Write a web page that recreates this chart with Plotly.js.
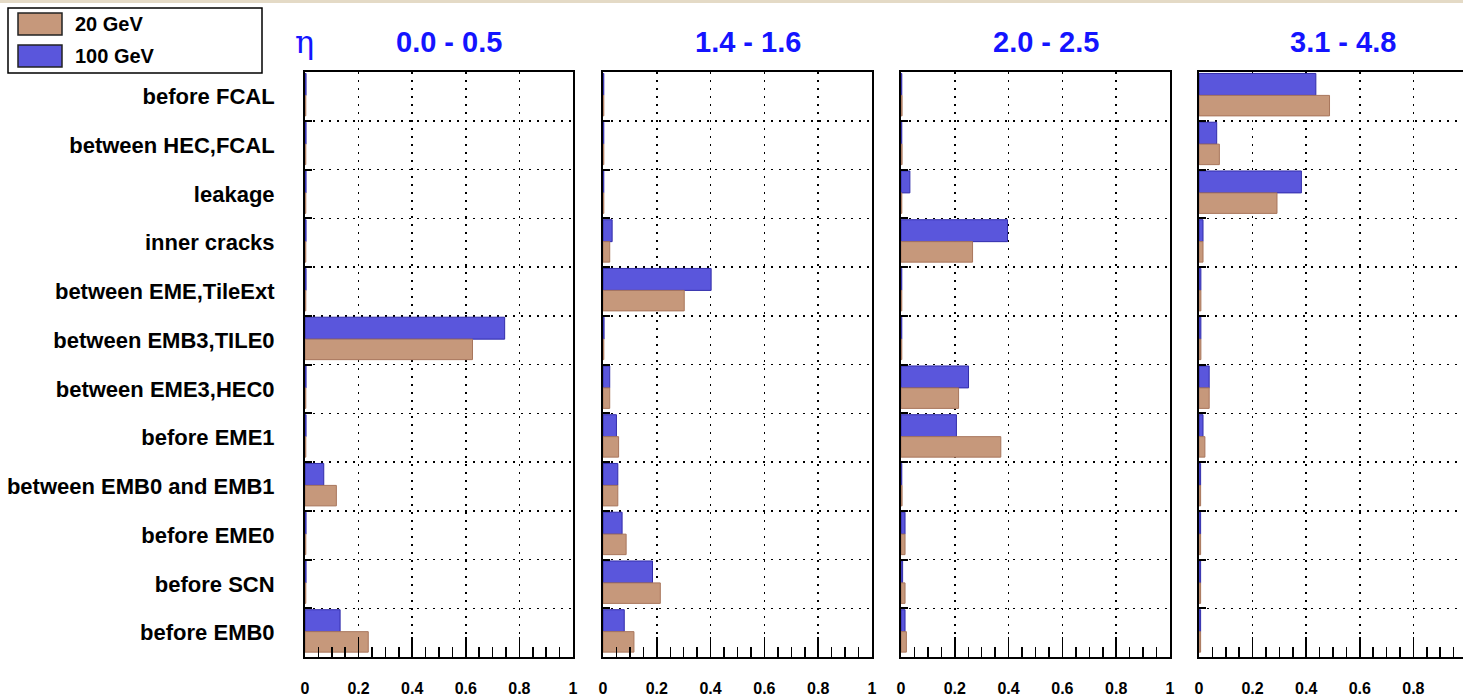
<!DOCTYPE html>
<html>
<head>
<meta charset="utf-8">
<script src="https://cdn.plot.ly/plotly-3.0.1.min.js"></script>
<style>
  html, body { margin: 0; padding: 0; overflow: hidden; background: #ffffff; }
  #chart { width: 1475px; height: 698px; }
</style>
</head>
<body>
<div id="chart"></div>
<script>
// ---------------- data ----------------
const categories = [
  "before FCAL", "between HEC,FCAL", "leakage", "inner cracks",
  "between EME,TileExt", "between EMB3,TILE0", "between EME3,HEC0",
  "before EME1", "between EMB0 and EMB1", "before EME0", "before SCN", "before EMB0"
];
const etaRanges = ["0.0 - 0.5", "1.4 - 1.6", "2.0 - 2.5", "3.1 - 4.8"];
const seriesNames = ["20 GeV", "100 GeV"];
const tickValues = [0, 0.2, 0.4, 0.6, 0.8, 1];
const tickLabels = ["0", "0.2", "0.4", "0.6", "0.8", "1"];

const gev20_eta0 = [0.003, 0.003, 0.003, 0.003, 0.003, 0.625, 0.003, 0.003, 0.117, 0.003, 0.003, 0.236];
const gev100_eta0 = [0.004, 0.004, 0.004, 0.004, 0.004, 0.745, 0.004, 0.004, 0.070, 0.004, 0.004, 0.131];

const gev20_eta1 = [0.003, 0.003, 0.003, 0.025, 0.302, 0.003, 0.025, 0.058, 0.055, 0.086, 0.213, 0.115];
const gev100_eta1 = [0.003, 0.003, 0.003, 0.034, 0.402, 0.004, 0.025, 0.050, 0.055, 0.071, 0.184, 0.079];

const gev20_eta2 = [0.004, 0.004, 0.003, 0.266, 0.003, 0.003, 0.214, 0.371, 0.004, 0.015, 0.015, 0.020];
const gev100_eta2 = [0.003, 0.003, 0.033, 0.396, 0.003, 0.003, 0.251, 0.206, 0.003, 0.015, 0.006, 0.015];

const gev20_eta3 = [0.487, 0.076, 0.291, 0.015, 0.007, 0.007, 0.038, 0.022, 0.006, 0.006, 0.006, 0.006];
const gev100_eta3 = [0.436, 0.066, 0.382, 0.015, 0.007, 0.007, 0.038, 0.015, 0.006, 0.006, 0.006, 0.006];

const values20 = [gev20_eta0, gev20_eta1, gev20_eta2, gev20_eta3];
const values100 = [gev100_eta0, gev100_eta1, gev100_eta2, gev100_eta3];

// ---------------- style ----------------
const W = 1475, H = 698;
const brown = "rgb(198,152,123)", brownEdge = "rgb(168,118,92)";
const blue = "rgb(90,86,220)", blueEdge = "rgb(50,45,170)";
const titleBlue = "rgb(20,20,255)";
const FONT = "Liberation Sans, Arial, Helvetica, sans-serif";
const panelsPx = [[305, 573], [603, 872], [901, 1170], [1199, 1467]];
const topPx = 72, botPx = 657;
const px = x => x / W;
const py = y => 1 - y / H;

const traces = [];
const layout = {
  width: W, height: H,
  margin: {l: 0, r: 0, t: 0, b: 0, pad: 0},
  paper_bgcolor: "#ffffff", plot_bgcolor: "#ffffff",
  showlegend: false,
  font: {family: FONT, color: "#000"},
  shapes: [], annotations: []
};

for (let i = 0; i < 4; i++) {
  const sfx = i === 0 ? "" : String(i + 1);
  const xa = "x" + sfx, ya = "y" + sfx;
  // last panel is cut by the picture edge: its "1" label falls outside
  const nTicks = i === 3 ? tickValues.length - 1 : tickValues.length;
  traces.push({
    type: "bar", orientation: "h", name: seriesNames[1],
    x: values100[i], y: categories, xaxis: xa, yaxis: ya,
    offset: -0.47, width: 0.45,
    marker: {color: blue, line: {color: blueEdge, width: 1}},
    hoverinfo: "x+y"
  });
  traces.push({
    type: "bar", orientation: "h", name: seriesNames[0],
    x: values20[i], y: categories, xaxis: xa, yaxis: ya,
    offset: -0.02, width: 0.42,
    marker: {color: brown, line: {color: brownEdge, width: 1}},
    hoverinfo: "x+y"
  });
  layout["xaxis" + sfx] = {
    domain: [px(panelsPx[i][0]), px(panelsPx[i][1])],
    anchor: ya, range: [0, 1], fixedrange: true,
    tickmode: "array",
    tickvals: tickValues.slice(0, nTicks), ticktext: tickLabels.slice(0, nTicks),
    ticks: "inside", ticklen: 20, tickwidth: 1.5, tickcolor: "#000",
    minor: {tick0: 0, dtick: 0.05, ticks: "inside", ticklen: 10, tickwidth: 1.5, tickcolor: "#000", showgrid: false},
    showgrid: true, gridcolor: "#000", gridwidth: 1.5, griddash: "2px,6px",
    zeroline: false,
    showline: true, linecolor: "#000", linewidth: 2, mirror: true,
    tickfont: {family: FONT, size: 16, weight: "bold", color: "#000"},
    ticklabelstandoff: 16
  };
  layout["yaxis" + sfx] = {
    domain: [py(botPx), py(topPx)],
    anchor: xa, type: "category",
    categoryorder: "array", categoryarray: categories,
    autorange: "reversed", fixedrange: true,
    tickson: "boundaries",
    ticks: "inside", ticklen: 7, tickwidth: 2, tickcolor: "#000",
    showgrid: true, gridcolor: "#000", gridwidth: 1.5, griddash: "2px,6px",
    zeroline: false,
    showline: true, linecolor: "#000", linewidth: 2, mirror: true,
    showticklabels: i === 0,
    tickfont: {family: FONT, size: 22, weight: "bold", color: "#000"},
    ticklabelstandoff: 24
  };
  layout.annotations.push({
    xref: "paper", yref: "paper",
    x: px((panelsPx[i][0] + panelsPx[i][1]) / 2 + 10), y: py(42),
    xanchor: "center", yanchor: "middle", showarrow: false,
    text: etaRanges[i],
    font: {family: FONT, size: 29, weight: "bold", color: titleBlue}
  });
}

// eta symbol
layout.annotations.push({
  xref: "paper", yref: "paper", x: px(304), y: py(42),
  xanchor: "center", yanchor: "middle", showarrow: false,
  text: "η", font: {family: "DejaVu Serif, Liberation Serif, serif", size: 32, color: titleBlue}
});

// top beige strip
layout.shapes.push({
  type: "rect", xref: "paper", yref: "paper",
  x0: 0, x1: 1, y0: py(3), y1: 1,
  fillcolor: "rgb(228,218,198)", line: {width: 0}, layer: "below"
});

// legend box
layout.shapes.push({
  type: "rect", xref: "paper", yref: "paper",
  x0: px(8), x1: px(262), y0: py(73), y1: py(8),
  fillcolor: "#ffffff", line: {color: "#000", width: 1.5}
});
const legendRows = [
  {name: seriesNames[0], color: brown, y0: 13, y1: 35, ty: 24},
  {name: seriesNames[1], color: blue, y0: 45, y1: 67, ty: 56}
];
legendRows.forEach(r => {
  layout.shapes.push({
    type: "rect", xref: "paper", yref: "paper",
    x0: px(18), x1: px(62), y0: py(r.y1), y1: py(r.y0),
    fillcolor: r.color, line: {color: "#222", width: 1.5}
  });
  layout.annotations.push({
    xref: "paper", yref: "paper", x: px(73), y: py(r.ty),
    xanchor: "left", yanchor: "middle", showarrow: false,
    text: r.name, font: {family: FONT, size: 20, weight: "bold", color: "#000"}
  });
});

Plotly.newPlot("chart", traces, layout, {displayModeBar: false, staticPlot: true});
</script>
</body>
</html>
